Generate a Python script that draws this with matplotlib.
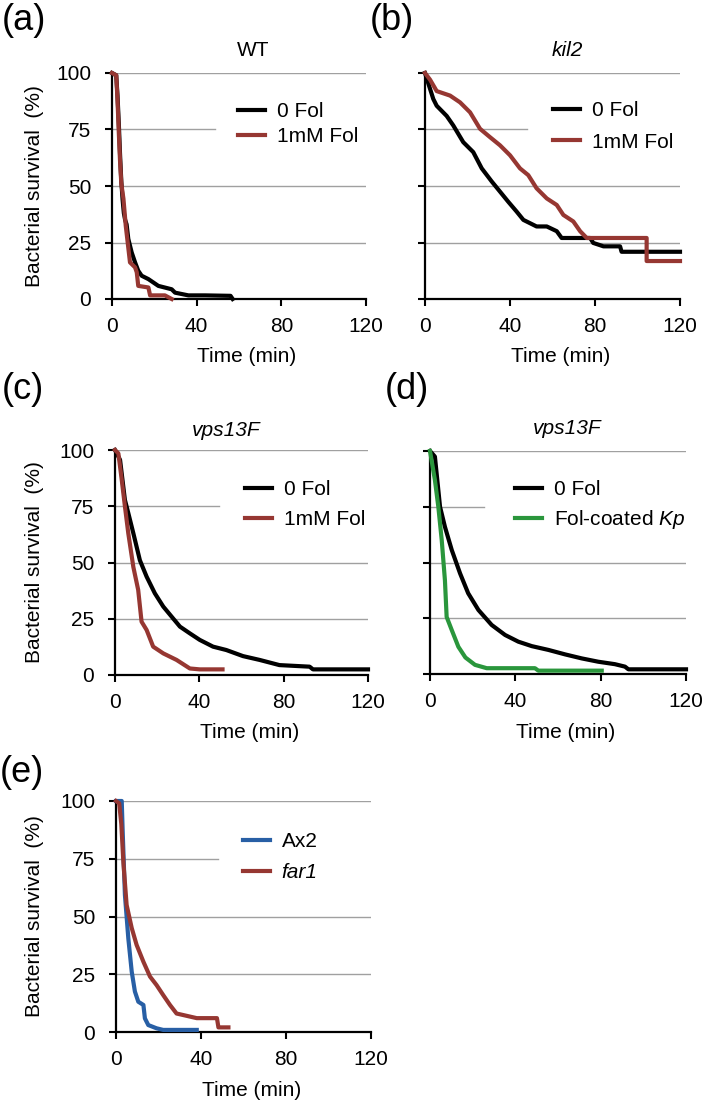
import matplotlib
matplotlib.use("Agg")
import matplotlib.pyplot as plt

plt.rcParams["font.family"] = ["Liberation Sans", "DejaVu Sans"]
plt.rcParams["mathtext.fontset"] = "custom"
plt.rcParams["mathtext.it"] = "Liberation Sans:italic"
plt.rcParams["mathtext.rm"] = "Liberation Sans"

W, H = 709, 1103
BLACK, RED, GREEN, BLUE = "#000000", "#963732", "#2A963C", "#285FA5"
GRID = "#a0a0a0"

# (a) WT
a_t_ctrl = [0, 2, 2.6, 3.2, 3.8, 4.4, 5, 5.6, 6.2, 6.9, 7.7, 9.3, 10.9, 12.4, 14, 17.2, 21.9, 28.2, 29.8, 36.1, 44, 50, 56, 57]
a_v_ctrl = [100, 99, 90, 78, 64, 52, 44, 38, 35, 33, 26.6, 20.6, 16.2, 12.5, 10.3, 8.8, 5.8, 4.3, 2.8, 1.6, 1.6, 1.5, 1.4, 0]
a_t_fol = [0, 2, 2.6, 3.2, 3.8, 4.4, 5.4, 6.5, 7.4, 8.5, 10.9, 11.7, 12.4, 17.2, 18, 25, 28.2]
a_v_fol = [100, 99, 88, 74, 61, 51, 44.4, 32.4, 25.1, 16.2, 14, 11.8, 5.8, 5.1, 1.6, 1.6, 0]

# (b) kil2
b_t_ctrl = [0, 3.9, 5.5, 10.2, 13.3, 18, 22.7, 26.7, 31.4, 35.3, 39.2, 43.1, 46.3, 52.5, 57.3, 62, 64.3, 77.7, 79.2, 84, 91.8, 92.5, 120]
b_v_ctrl = [100, 88.5, 85.5, 81, 76.8, 69.4, 65, 57.8, 52, 47.5, 43, 38.7, 35, 32.1, 32.1, 30, 27, 27, 24.8, 23.3, 23.3, 20.9, 20.9]
b_t_fol = [0, 2.4, 5.5, 11.8, 16.5, 21.2, 25.9, 30.6, 35.3, 40, 44.7, 48.6, 52.5, 57.3, 62, 65.1, 69.8, 73, 76.1, 104.3, 104.3, 120]
b_v_fol = [100, 97, 92, 90, 87, 82.6, 75.3, 71.6, 68, 63.6, 57.8, 54.8, 49, 44.5, 41.6, 37.2, 34.3, 30, 27, 27, 16.8, 16.8]

# (c) vps13F
c_t_ctrl = [0, 2.4, 4.7, 6.3, 8.7, 11.8, 15, 18.9, 22.9, 26.8, 30.8, 35.5, 40.2, 46.5, 52.8, 60.7, 68.6, 78, 92.3, 93.9, 120]
c_v_ctrl = [100, 95.6, 77.8, 72, 63, 51, 43.7, 36.3, 30.4, 26, 21.5, 18.5, 15.6, 12.6, 11.1, 8.4, 6.7, 4.4, 3.7, 2.5, 2.5]
c_t_fol = [0, 1.6, 3.2, 4.7, 6.3, 8.7, 11, 12.6, 15, 18.1, 22.9, 29.2, 35.5, 40.2, 51]
c_v_fol = [100, 98.5, 86.7, 75, 63, 48, 37.8, 23.7, 20, 12.6, 9.6, 6.7, 2.9, 2.5, 2.5]

# (d) vps13F, Fol-coated Kp
d_t_ctrl = [0, 2.3, 4.7, 7.0, 10.2, 14.1, 17.9, 22.7, 28.9, 35.2, 41.4, 47.7, 55.5, 63.3, 71.1, 78.9, 86.7, 91.4, 93, 120]
d_v_ctrl = [100, 97.5, 75, 66, 55.6, 45.1, 36.2, 28.7, 22, 17.5, 14.5, 12.5, 10.8, 8.8, 7.0, 5.5, 4.4, 3.3, 2.1, 2.1]
d_t_kp = [0, 2.3, 3.9, 5.5, 7, 7.8, 10.2, 13.3, 16.6, 21.1, 26.6, 49.2, 50.8, 80.5]
d_v_kp = [100, 87, 75, 60, 42, 25.6, 19.7, 12.2, 7.4, 4.1, 2.6, 2.6, 1.5, 1.5]

# (e) Ax2 vs far1
e_t_ax2 = [0, 2.7, 3.1, 4.2, 5.8, 7.4, 8.9, 10.5, 12.9, 13.6, 15.2, 19.1, 22.2, 38]
e_v_ax2 = [100, 100, 88, 59.3, 40.5, 26.1, 17.5, 13.1, 11.7, 5.9, 3, 1.6, 0.9, 0.9]
e_t_far1 = [0, 1.5, 2.5, 3.5, 5, 7.4, 9.7, 12.9, 16, 19.1, 22.2, 25.4, 28.5, 38, 47.5, 48.2, 52.9]
e_v_far1 = [100, 99, 90, 73, 55, 45, 37.7, 30.4, 24, 20.3, 16, 11.7, 8, 6, 6, 2, 2]

x_ticks = [0, 40, 80, 120]
y_ticks = [0, 25, 50, 75, 100]
ITALIC = {"far1"}

panels = [
    dict(tag="(a)", title="WT", tital=False, box=(112, 366, 73, 299), ylab=True, grid75=0.405,
         series=[(a_t_ctrl, a_v_ctrl, BLACK, "0 Fol"), (a_t_fol, a_v_fol, RED, "1mM Fol")],
         leg=(238, 102), lsp=0.3, tagpos=(2, 3), titlepos=(253, 51)),
    dict(tag="(b)", title="kil2", tital=True, box=(425, 680, 73, 299), ylab=False, grid75=0.40,
         series=[(b_t_ctrl, b_v_ctrl, BLACK, "0 Fol"), (b_t_fol, b_v_fol, RED, "1mM Fol")],
         leg=(553, 101), lsp=0.6, tagpos=(370, 3), titlepos=(567, 50)),
    dict(tag="(c)", title="vps13F", tital=True, box=(115, 368, 450, 675), ylab=True, grid75=0.41,
         series=[(c_t_ctrl, c_v_ctrl, BLACK, "0 Fol"), (c_t_fol, c_v_fol, RED, "1mM Fol")],
         leg=(245, 480), lsp=0.55, tagpos=(2, 372), titlepos=(226, 431)),
    dict(tag="(d)", title="vps13F", tital=True, box=(430, 686, 451, 674), ylab=False, grid75=0.21,
         series=[(d_t_ctrl, d_v_ctrl, BLACK, "0 Fol"), (d_t_kp, d_v_kp, GREEN, "Fol-coated $\\it{Kp}$")],
         leg=(515, 480), lsp=0.45, tagpos=(385, 372), titlepos=(567, 429)),
    dict(tag="(e)", title=None, tital=False, box=(116, 371, 801, 1032), ylab=True, grid75=0.40,
         series=[(e_t_ax2, e_v_ax2, BLUE, "Ax2"), (e_t_far1, e_v_far1, RED, "far1")],
         leg=(243, 832), lsp=0.6, tagpos=(0, 755), titlepos=None),
]

fig = plt.figure(figsize=(W / 100, H / 100), dpi=100)
fig.patch.set_facecolor("white")

for p in panels:
    l, r, t, b = p["box"]
    ax = fig.add_axes([l / W, 1 - b / H, (r - l) / W, (b - t) / H])
    ax.set_xlim(0, 120)
    ax.set_ylim(0, 100)
    ax.set_xticks(x_ticks)
    ax.set_yticks(y_ticks)
    for g in (25, 50, 100):
        ax.axhline(g, color=GRID, lw=1.0, zorder=0)
    ax.axhline(75, xmax=p["grid75"], color=GRID, lw=1.0, zorder=0)
    for s in ("top", "right"):
        ax.spines[s].set_visible(False)
    for s in ("left", "bottom"):
        ax.spines[s].set_linewidth(1.6)
    ax.tick_params(axis="y", direction="out", length=5, width=1.5, labelsize=15, pad=10)
    ax.tick_params(axis="x", direction="out", length=5, width=1.5, labelsize=15, pad=8)
    if not p["ylab"]:
        ax.set_yticklabels([])
    for xs, ys, c, lab in p["series"]:
        ax.plot(xs, ys, color=c, lw=3.0, label=lab, clip_on=False, zorder=3)
    leg = ax.legend(loc="upper left", bbox_to_anchor=(p["leg"][0] / W, 1 - p["leg"][1] / H),
                    bbox_transform=fig.transFigure, frameon=False, fontsize=15,
                    handlelength=1.3, handletextpad=0.55, borderpad=0, borderaxespad=0,
                    labelspacing=p["lsp"])
    for txt in leg.get_texts():
        if txt.get_text() in ITALIC:
            txt.set_fontstyle("italic")

    # texts placed in figure pixels
    cx = (l + r) / 2
    fig.text((cx + 8) / W, 1 - (b + 58) / H, "Time (min)", ha="center", va="center", fontsize=15)
    if p["ylab"]:
        fig.text(35 / W, 1 - ((t + b) / 2) / H, "Bacterial survival  (%)", rotation=90,
                 ha="center", va="center", fontsize=15)
    if p["title"]:
        fig.text(p["titlepos"][0] / W, 1 - p["titlepos"][1] / H, p["title"],
                 ha="center", va="center", fontsize=15,
                 fontstyle="italic" if p["tital"] else "normal")
    fig.text(p["tagpos"][0] / W, 1 - p["tagpos"][1] / H, p["tag"], ha="left", va="top", fontsize=26)

fig.savefig("out.png", dpi=100, facecolor="white")
